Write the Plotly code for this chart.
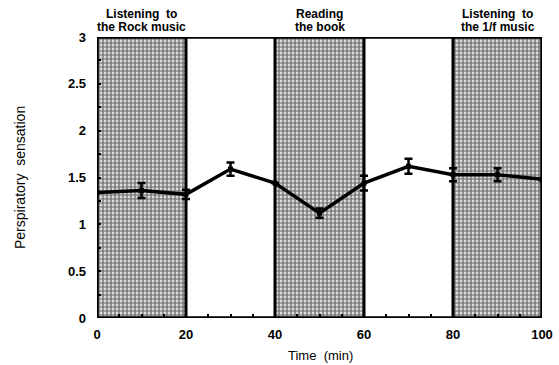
import plotly.graph_objects as go

time_min = [0, 10, 20, 30, 40, 50, 60, 70, 80, 90, 100]
sensation = [1.34, 1.36, 1.32, 1.59, 1.44, 1.12, 1.44, 1.62, 1.53, 1.53, 1.48]
sem = [0, 0.08, 0.05, 0.07, 0, 0.05, 0.08, 0.08, 0.07, 0.07, 0]

period_centers = [10, 50, 90]
period_line1 = ["Listening  to", "Reading", "Listening  to"]
period_line2 = ["the Rock music", "the book", "the 1/f music"]
boundaries = [20, 40, 60, 80]

x_ticks = [0, 20, 40, 60, 80, 100]
y_ticks = [0, 0.5, 1, 1.5, 2, 2.5, 3]
y_tick_text = ["0", "0.5", "1", "1.5", "2", "2.5", "3"]

FONT = "Liberation Sans Narrow, Arial Narrow, Liberation Sans, Arial, sans-serif"
TFONT = "Liberation Sans, Arial, sans-serif"

W, H = 559, 365
ML, MR, MT, MB = 97, 17, 37, 47
plot_w = W - ML - MR
plot_h = H - MT - MB

fig = go.Figure()

fig.add_trace(go.Bar(
    x=period_centers, y=[3, 3, 3], width=20,
    marker=dict(color="white", line=dict(width=0),
                pattern=dict(shape=".", fgcolor="black", bgcolor="white", size=4, solidity=0.7)),
    showlegend=False, hoverinfo="skip",
))

fig.add_trace(go.Scatter(
    x=time_min, y=sensation, mode="lines+markers",
    line=dict(color="black", width=3.5),
    marker=dict(symbol="square", size=5, color="black"),
    error_y=dict(type="data", array=sem, visible=True, color="black", thickness=2.5, width=4),
    showlegend=False,
))

for b in boundaries:
    fig.add_shape(type="line", x0=b, x1=b, y0=0, y1=3, xref="x", yref="y",
                  line=dict(color="black", width=3))

fig.add_shape(type="rect", x0=0, x1=100, y0=0, y1=3, xref="x", yref="y",
              line=dict(color="black", width=3.5), fillcolor="rgba(0,0,0,0)")

for c, t1, t2 in zip(period_centers, period_line1, period_line2):
    fig.add_annotation(x=c, y=3, xref="x", yref="y", text=f"<b>{t1}</b>", showarrow=False,
                       yanchor="bottom", yshift=14,
                       font=dict(family=FONT, size=12, color="black"))
    fig.add_annotation(x=c, y=3, xref="x", yref="y", text=f"<b>{t2}</b>", showarrow=False,
                       yanchor="bottom", yshift=1,
                       font=dict(family=FONT, size=12, color="black"))

fig.add_annotation(x=(20 - ML) / plot_w, y=(H - MB - 178) / plot_h, xref="paper", yref="paper",
                   text="Perspiratory  sensation", showarrow=False, textangle=-90,
                   xanchor="center", yanchor="middle",
                   font=dict(family=TFONT, size=14, color="black"))
fig.add_annotation(x=(320 - ML) / plot_w, y=(H - MB - 355) / plot_h, xref="paper", yref="paper",
                   text="Time  (min)", showarrow=False, xanchor="center", yanchor="middle",
                   font=dict(family=TFONT, size=13, color="black"))

fig.update_xaxes(range=[0, 100], tickvals=x_ticks, ticktext=[f"<b>{v}</b>" for v in x_ticks],
                 showgrid=False, zeroline=False, showline=False, automargin=False,
                 ticks="", ticklabelstandoff=7, tickfont=dict(family=FONT, size=13, color="black"),
                 minor=dict(tickvals=list(range(5, 100, 5)), ticks="inside", ticklen=4,
                            tickwidth=2, tickcolor="black"))
fig.update_yaxes(range=[0, 3], tickvals=y_ticks, ticktext=[f"<b>{v}</b>" for v in y_tick_text],
                 showgrid=False, zeroline=False, showline=False, automargin=False,
                 ticks="", ticklabelstandoff=10, tickfont=dict(family=FONT, size=13, color="black"),
                 minor=dict(tickvals=[0.25 * i for i in range(1, 12)], ticks="inside", ticklen=4,
                            tickwidth=2, tickcolor="black"))

fig.update_layout(
    width=W, height=H,
    margin=dict(l=ML, r=MR, t=MT, b=MB),
    plot_bgcolor="white", paper_bgcolor="white",
    bargap=0,
)

fig.write_html("out.html", config={"displayModeBar": False},
               post_script="document.body.style.margin='0';document.body.style.padding='0';")
